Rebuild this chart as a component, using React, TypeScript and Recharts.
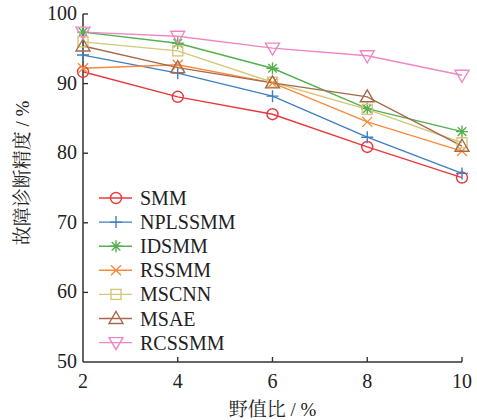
import React from "react";
import { Line, LineChart, XAxis, YAxis } from "recharts";

if (typeof document !== "undefined") document.body.style.margin = "0";

const outlierRatio = [2, 4, 6, 8, 10];
const smm = [91.7, 88.1, 85.6, 80.9, 76.5];
const nplssmm = [94.1, 91.5, 88.2, 82.3, 77.1];
const idsmm = [97.4, 95.8, 92.2, 86.4, 83.1];
const rssmm = [92.2, 92.7, 90.1, 84.5, 80.3];
const mscnn = [96.0, 94.7, 90.2, 86.3, 81.5];
const msae = [95.4, 92.3, 90.1, 88.1, 81.0];
const rcssmm = [97.4, 96.8, 95.1, 94.0, 91.2];

const yTicks = [50, 60, 70, 80, 90, 100];
const xTicks = [2, 4, 6, 8, 10];

const FONT = '"Liberation Serif", "Times New Roman", serif';
const CJK = '"Liberation Serif", "Noto Serif CJK SC", "Noto Sans CJK SC", serif';
const AXIS = "#333";

type Shape = "circle" | "plus" | "star" | "cross" | "square" | "up" | "down";

const series: { key: string; name: string; values: number[]; color: string; shape: Shape }[] = [
  { key: "smm", name: "SMM", values: smm, color: "#e8383d", shape: "circle" },
  { key: "nplssmm", name: "NPLSSMM", values: nplssmm, color: "#3f7fbf", shape: "plus" },
  { key: "idsmm", name: "IDSMM", values: idsmm, color: "#52b04e", shape: "star" },
  { key: "rssmm", name: "RSSMM", values: rssmm, color: "#f98a3c", shape: "cross" },
  { key: "mscnn", name: "MSCNN", values: mscnn, color: "#d6c77a", shape: "square" },
  { key: "msae", name: "MSAE", values: msae, color: "#a8694b", shape: "up" },
  { key: "rcssmm", name: "RCSSMM", values: rcssmm, color: "#ee86c4", shape: "down" },
];

const data = outlierRatio.map((x, i) => {
  const row: Record<string, number> = { x };
  series.forEach((s) => (row[s.key] = s.values[i]));
  return row;
});

function Marker({ cx, cy, shape, color }: { cx: number; cy: number; shape: Shape; color: string }) {
  const r = 6;
  const p = { stroke: color, strokeWidth: 1.4, fill: "none" };
  switch (shape) {
    case "circle":
      return <circle cx={cx} cy={cy} r={5.5} {...p} />;
    case "plus":
      return <path d={`M${cx - r},${cy}H${cx + r}M${cx},${cy - r}V${cy + r}`} {...p} />;
    case "star":
      return (
        <path
          d={`M${cx - r},${cy}H${cx + r}M${cx},${cy - r}V${cy + r}M${cx - 4.3},${cy - 4.3}L${cx + 4.3},${cy + 4.3}M${cx - 4.3},${cy + 4.3}L${cx + 4.3},${cy - 4.3}`}
          {...p}
        />
      );
    case "cross":
      return <path d={`M${cx - 5},${cy - 5}L${cx + 5},${cy + 5}M${cx - 5},${cy + 5}L${cx + 5},${cy - 5}`} {...p} />;
    case "square":
      return <rect x={cx - 5} y={cy - 5} width={10} height={10} {...p} />;
    case "up":
      return <path d={`M${cx},${cy - 7}L${cx + 7},${cy + 5}L${cx - 7},${cy + 5}Z`} {...p} />;
    case "down":
      return <path d={`M${cx},${cy + 7}L${cx + 7},${cy - 5}L${cx - 7},${cy - 5}Z`} {...p} />;
  }
}

function YTick(props: any) {
  const { x, y, payload } = props;
  const ax = x + 6;
  return (
    <g>
      {payload.value !== 50 && <line x1={ax} x2={ax + 5} y1={y} y2={y} stroke={AXIS} strokeWidth={1.4} />}
      <text x={x} y={y} dy={6} textAnchor="end" fontFamily={FONT} fontSize={20} fill="#222">
        {payload.value}
      </text>
    </g>
  );
}

function XTick(props: any) {
  const { x, y, payload } = props;
  const ay = y - 6;
  return (
    <g>
      {payload.value !== 2 && <line x1={x} x2={x} y1={ay} y2={ay - 5} stroke={AXIS} strokeWidth={1.4} />}
      <text x={x} y={y} dy={20} textAnchor="middle" fontFamily={FONT} fontSize={20} fill="#222">
        {payload.value}
      </text>
    </g>
  );
}

function LegendBox() {
  return (
    <svg width={160} height={170} style={{ position: "absolute", left: 99, top: 186 }}>
      {series.map((s, i) => {
        const y = 12 + i * 24.1;
        return (
          <g key={s.key}>
            <line x1={0} x2={33} y1={y} y2={y} stroke={s.color} strokeWidth={1.4} />
            <Marker cx={17} cy={y} shape={s.shape} color={s.color} />
            <text x={41} y={y} dy={7} fontFamily={FONT} fontSize={20} fill="#222">
              {s.name}
            </text>
          </g>
        );
      })}
    </svg>
  );
}

export default function App() {
  return (
    <div style={{ position: "relative", width: 477, height: 420 }}>
      <LineChart width={477} height={420} data={data} margin={{ top: 14, right: 15, left: 0, bottom: 0 }}>
        <XAxis
          dataKey="x"
          type="number"
          domain={[2, 10]}
          ticks={xTicks}
          height={58}
          tickLine={false}
          tickSize={0}
          tickMargin={6}
          axisLine={{ stroke: AXIS, strokeWidth: 1.5 }}
          tick={<XTick />}
          label={{
            value: "野值比 / %",
            position: "insideBottom",
            offset: 4,
            fontFamily: CJK,
            fontSize: 19,
            fill: "#222",
          }}
        />
        <YAxis
          type="number"
          domain={[50, 100]}
          ticks={yTicks}
          width={83}
          tickLine={false}
          tickSize={0}
          tickMargin={6}
          axisLine={{ stroke: AXIS, strokeWidth: 1.5 }}
          tick={<YTick />}
          label={{
            content: ({ viewBox }: any) => {
              const cx = viewBox.x + 22;
              const cy = viewBox.y + viewBox.height / 2 - 15;
              return (
                <text
                  x={cx}
                  y={cy}
                  textAnchor="middle"
                  dominantBaseline="central"
                  transform={`rotate(-90 ${cx} ${cy})`}
                  fontFamily={CJK}
                  fontSize={19}
                  fill="#222"
                >
                  故障诊断精度 / %
                </text>
              );
            },
          }}
        />
        {series.map((s) => (
          <Line
            key={s.key}
            dataKey={s.key}
            name={s.name}
            stroke={s.color}
            strokeWidth={1.4}
            isAnimationActive={false}
            dot={(p: any) => <Marker key={`${s.key}-${p.index}`} cx={p.cx} cy={p.cy} shape={s.shape} color={s.color} />}
            activeDot={false}
          />
        ))}
      </LineChart>
      <LegendBox />
    </div>
  );
}
